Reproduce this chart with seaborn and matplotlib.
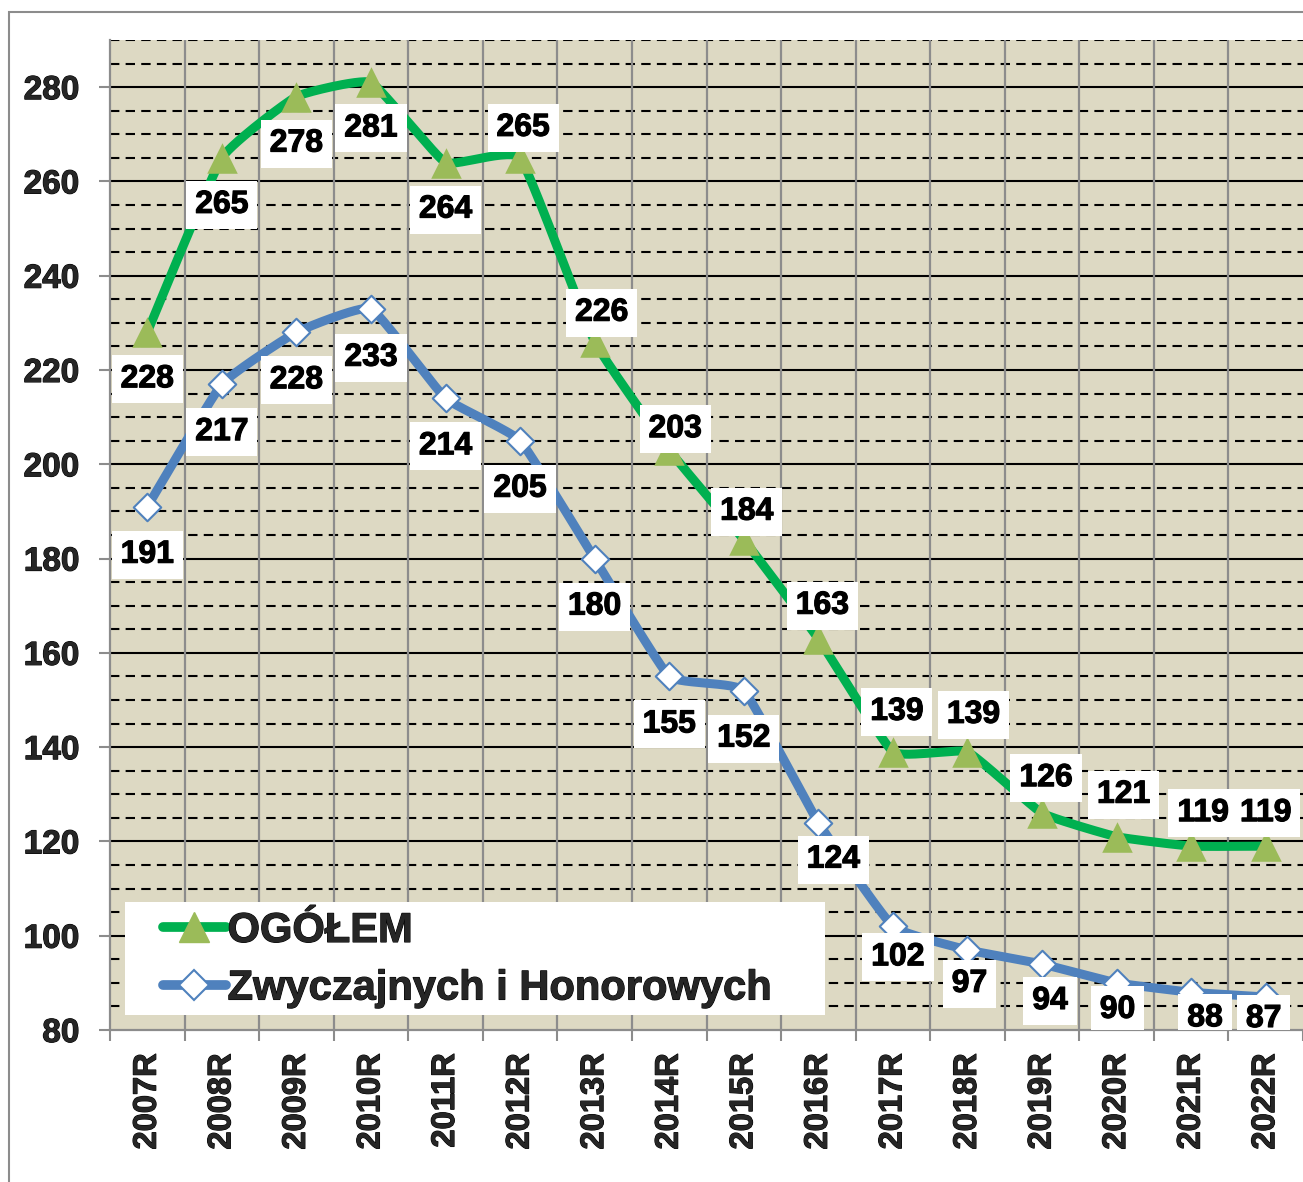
import numpy as np
import pandas as pd
import matplotlib
matplotlib.use("Agg")
import matplotlib.pyplot as plt
from matplotlib.patches import Rectangle
from matplotlib.lines import Line2D
import matplotlib.patheffects as pe
import seaborn as sns

# ---------------- data ----------------
years = ["2007R", "2008R", "2009R", "2010R", "2011R", "2012R", "2013R", "2014R",
         "2015R", "2016R", "2017R", "2018R", "2019R", "2020R", "2021R", "2022R"]
ogolem = [228, 265, 278, 281, 264, 265, 226, 203, 184, 163, 139, 139, 126, 121, 119, 119]
zwycz = [191, 217, 228, 233, 214, 205, 180, 155, 152, 124, 102, 97, 94, 90, 88, 87]
series_names = ["OGÓŁEM", "Zwyczajnych i Honorowych"]
y_ticks = [80, 100, 120, 140, 160, 180, 200, 220, 240, 260, 280]

# label offsets in pixels (dx, dy; dy positive = up)
ogolem_off = [(0, -47), (0, -47), (0, -47), (0, -46), (0, -47), (3, 30), (7, 29), (6, 21),
              (3, 28), (4, 33), (4, 40), (6, 37), (4, 35), (7, 42), (12, 33), (0, 33)]
zwycz_off = [(0, -48), (0, -48), (0, -48), (0, -49), (0, -48), (0, -48), (0, -48), (0, -48),
             (0, -48), (15, -37), (5, -31), (2, -34), (8, -37), (1, -27), (14, -26), (-2, -22)]

GREEN = "#00B050"
GREEN_M = "#9BBB59"
BLUE = "#4F81BD"
BG = "#DDD9C3"
GRID_V = "#8C8C8C"

sns.set_theme(style="white")
plt.rcParams["font.family"] = ["Liberation Sans", "DejaVu Sans"]
plt.rcParams["font.weight"] = "bold"

BOLD = [pe.withStroke(linewidth=0.8, foreground="black")]

W, H = 1303, 1182
fig = plt.figure(figsize=(W / 100, H / 100), dpi=100)
fig.patch.set_facecolor("white")
ax = fig.add_axes([110 / W, 1 - 1030 / H, 1 - 110 / W, (1030 - 40) / H])
ax.set_facecolor(BG)

x = np.arange(len(years))


def smooth(xs, ys, tension=0.06, n=30):
    P = np.column_stack([np.asarray(xs, float), np.asarray(ys, float)])
    out = []
    for i in range(len(P) - 1):
        p0 = P[i - 1] if i > 0 else P[i]
        p1 = P[i]
        p2 = P[i + 1]
        p3 = P[i + 2] if i + 2 < len(P) else P[i + 1]
        c1 = p1 + (p2 - p0) * tension
        c2 = p2 - (p3 - p1) * tension
        t = np.linspace(0, 1, n)[:, None]
        seg = ((1 - t) ** 3) * p1 + 3 * ((1 - t) ** 2) * t * c1 + 3 * (1 - t) * t ** 2 * c2 + t ** 3 * p2
        out.append(seg if i == 0 else seg[1:])
    S = np.vstack(out)
    return S[:, 0], S[:, 1]


# axes, ticks, grid
ax.set_xlim(-0.5, len(years) - 0.5)
ax.set_ylim(80, 290)
ax.set_yticks(y_ticks)
ax.set_xticks(x)
ax.set_xticks(np.arange(-0.5, len(years), 1.0), minor=True)
ax.set_xticklabels(years, rotation=90, fontsize=23.5, fontweight="bold")
ax.set_yticklabels([str(v) for v in y_ticks], fontsize=24, fontweight="bold")
for lab in ax.get_xticklabels() + ax.get_yticklabels():
    lab.set_path_effects(BOLD)

for v in np.arange(85, 291, 5):
    if v % 20 != 0:
        ax.axhline(v, color="black", lw=1.5, ls=(0, (4.5, 3)), zorder=0.5)
for v in y_ticks[1:]:
    ax.axhline(v, color="black", lw=1.5, zorder=0.6)
for b in np.arange(0.5, len(years) - 0.5, 1.0):
    ax.axvline(b, color=GRID_V, lw=1.6, zorder=0.7)

ax.tick_params(axis="x", which="major", length=0, pad=17)
ax.tick_params(axis="x", which="minor", length=8, width=1.5, color=GRID_V, bottom=True)
ax.tick_params(axis="y", which="major", length=8, width=1.5, color=GRID_V, pad=14, left=True)
for s in ["top", "right"]:
    ax.spines[s].set_visible(False)
for s in ["left", "bottom"]:
    ax.spines[s].set_color(GRID_V)
    ax.spines[s].set_linewidth(1.6)

# lines (lightly smoothed, as in the spreadsheet chart)
gx, gy = smooth(x, ogolem)
bx, by = smooth(x, zwycz)
ax.plot(gx, gy, color=GREEN, lw=6.5, zorder=3, solid_capstyle="round", solid_joinstyle="round")
ax.plot(bx, by, color=BLUE, lw=6.5, zorder=3, solid_capstyle="round", solid_joinstyle="round")

df = pd.DataFrame({"x": np.concatenate([x, x]),
                   "y": ogolem + zwycz,
                   "s": [series_names[0]] * len(x) + [series_names[1]] * len(x)})
sns.scatterplot(data=df[df.s == series_names[0]], x="x", y="y", marker="^", s=22 ** 2,
                color=GREEN_M, edgecolor=GREEN_M, linewidth=0, ax=ax, zorder=4, legend=False)
sns.scatterplot(data=df[df.s == series_names[1]], x="x", y="y", marker="D", s=14 ** 2,
                color="white", edgecolor=BLUE, linewidth=1.5, ax=ax, zorder=4, legend=False)
ax.set_xlabel("")
ax.set_ylabel("")

# data labels
z = 6
for vals, offs in [(ogolem, ogolem_off), (zwycz, zwycz_off)]:
    for i, (v, (dx, dy)) in enumerate(zip(vals, offs)):
        z += 0.01
        t = ax.annotate(str(v), (i, v), xytext=(dx, dy), textcoords="offset pixels",
                        ha="center", va="center", fontsize=23, fontweight="bold", color="black",
                        bbox=dict(boxstyle="square,pad=0.28", fc="white", ec="none"),
                        zorder=z, annotation_clip=False, clip_on=True)
        t.set_path_effects(BOLD)

# legend box
ax.add_patch(Rectangle((15 / 1193, 15 / 990), 700 / 1193, 113 / 990, transform=ax.transAxes,
                       facecolor="white", edgecolor="none", zorder=8))
handles = [Line2D([0], [0], color=GREEN, lw=7, marker="^", markersize=22,
                  markerfacecolor=GREEN_M, markeredgecolor=GREEN_M),
           Line2D([0], [0], color=BLUE, lw=7, marker="D", markersize=15,
                  markerfacecolor="white", markeredgecolor=BLUE, markeredgewidth=1.5)]
leg = ax.legend(handles, series_names, loc="upper left",
                bbox_to_anchor=(53 / 1193, (1030 - 911) / 990), frameon=False,
                borderpad=0, borderaxespad=0, handlelength=1.5, handletextpad=0.05,
                labelspacing=0.42, prop={"size": 30, "weight": "bold"})
leg.set_zorder(9)
for txt in leg.get_texts():
    txt.set_path_effects(BOLD)

# outer frame
fig.patches.append(Rectangle((9 / W, -0.1), 1.2, 1 - 12 / H + 0.1, transform=fig.transFigure,
                             facecolor="none", edgecolor=GRID_V, lw=1.5, zorder=0))

fig.savefig("out.png", dpi=100, facecolor="white")
